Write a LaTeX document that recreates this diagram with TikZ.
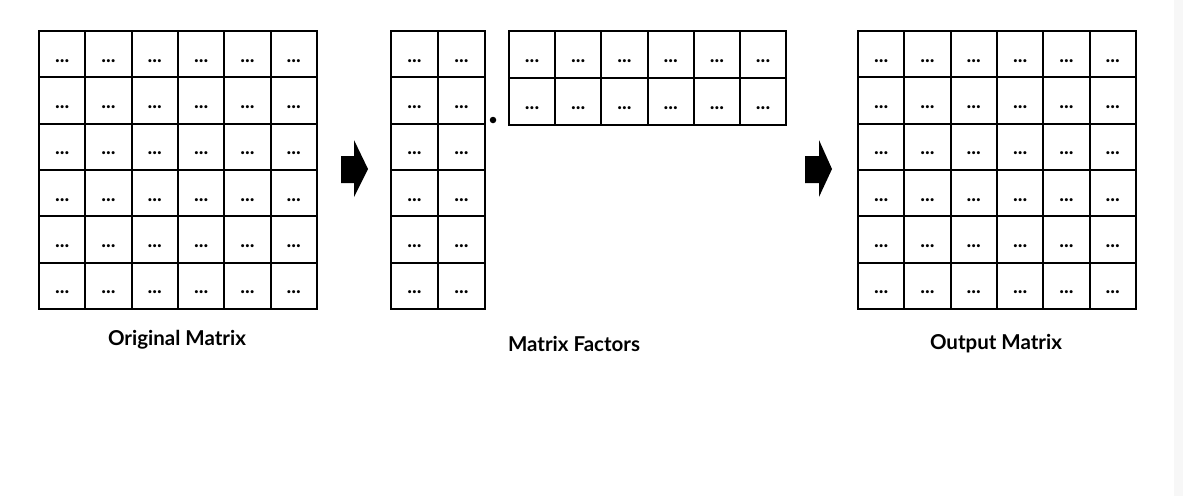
\documentclass[tikz,border=0pt]{standalone}
\usepackage{fontspec}
\setmainfont{Lato}
\begin{document}
\begin{tikzpicture}[x=1pt,y=-1pt,
  cellbox/.style={draw=black, line width=2pt, minimum width=#1, minimum height=46.33pt,
    inner sep=0pt, anchor=north west, text height=16pt, text depth=0pt,
    font=\fontsize{20}{20}\selectfont\bfseries},
  cellbox/.default=46.33pt,
  lbl/.style={font=\fontsize{20.5}{24}\selectfont\bfseries},
  blockarrow/.style={fill=black}]
\useasboundingbox[fill=white] (0,0) rectangle (1183,496);
\fill[black!3] (1174,0) rectangle (1183,496);
% original and output matrices
\foreach \r in {0,...,5} \foreach \c in {0,...,5} {
  \node[cellbox] (A-\r-\c) at ({38+\c*46.33},{30+\r*46.33}) {...};
  \node[cellbox] (C-\r-\c) at ({857+\c*46.33},{30+\r*46.33}) {...};
}
% left factor (6x2)
\foreach \r in {0,...,5} \foreach \c in {0,1} {
  \node[cellbox=47pt] (L-\r-\c) at ({390+\c*47},{30+\r*46.33}) {...};
}
% right factor (2x6)
\foreach \r in {0,1} \foreach \c in {0,...,5} {
  \node[cellbox=46.2pt, minimum height=47pt] (R-\r-\c) at ({508+\c*46.2},{30+\r*47}) {...};
}
% multiplication dot
\node[circle, fill=black, inner sep=0pt, minimum size=6.5pt] (dot) at (493,120) {};
% block arrows
\fill[blockarrow] (341,156) -- (354,156) -- (354,140) -- (368,169) -- (354,197) -- (354,183) -- (341,183) -- cycle;
\fill[blockarrow] (805,156) -- (819,156) -- (819,140) -- (832,169) -- (819,197) -- (819,183) -- (805,183) -- cycle;
% labels
\node[lbl] (t1) at (177,340) {Original Matrix};
\node[lbl] (t2) at (574,344) {Matrix Factors};
\node[lbl] (t3) at (996,344) {Output Matrix};
\end{tikzpicture}
\end{document}
